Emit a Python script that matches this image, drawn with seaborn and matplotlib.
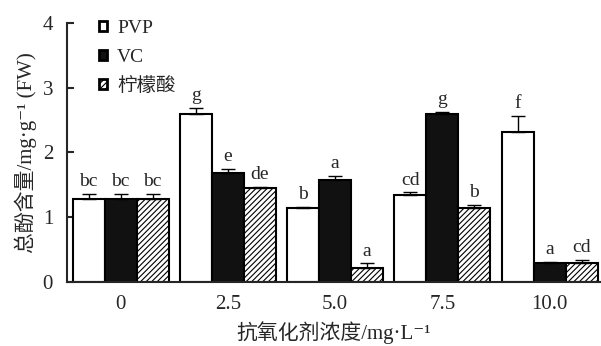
import matplotlib
matplotlib.use("Agg")
import matplotlib.pyplot as plt
import seaborn as sns
import pandas as pd
import numpy as np
from matplotlib.patches import Patch

concentrations = ["0", "2.5", "5.0", "7.5", "10.0"]
series = ["PVP", "VC", "柠檬酸"]
pvp = [1.28, 2.60, 1.14, 1.34, 2.32]
vc = [1.28, 1.68, 1.57, 2.60, 0.29]
citric = [1.28, 1.45, 0.21, 1.14, 0.28]
pvp_err = [0.07, 0.09, 0.02, 0.04, 0.25]
vc_err = [0.07, 0.06, 0.06, 0.02, 0.01]
citric_err = [0.07, 0.01, 0.07, 0.05, 0.06]
pvp_lbl = ["bc", "g", "b", "cd", "f"]
vc_lbl = ["bc", "e", "a", "g", "a"]
citric_lbl = ["bc", "de", "a", "b", "cd"]

sns.set_style("ticks")
plt.rcParams['font.family'] = ['Liberation Serif', 'Noto Sans CJK SC', 'DejaVu Sans']
plt.rcParams['hatch.color'] = '#555555'
plt.rcParams['hatch.linewidth'] = 0.8

rows = []
for s, vals in zip(series, [pvp, vc, citric]):
    for c, v in zip(concentrations, vals):
        rows.append({"conc": c, "series": s, "value": v})
df = pd.DataFrame(rows)

fig = plt.figure(figsize=(6.01, 3.46), dpi=100)
ax = fig.add_axes([0.1115, 0.1864, 0.887, 0.7463])

palette = {"PVP": "white", "VC": "#111111", "柠檬酸": "white"}
sns.barplot(data=df, x="conc", y="value", hue="series", order=concentrations,
            hue_order=series, palette=palette, errorbar=None, width=0.895,
            edgecolor="black", linewidth=1.5, ax=ax, legend=False)

errs = [pvp_err, vc_err, citric_err]
lbls = [pvp_lbl, vc_lbl, citric_lbl]
bar_containers = list(ax.containers)[:3]
for i, cont in enumerate(bar_containers):
    for j, bar in enumerate(cont.patches):
        if i == 2:
            bar.set_hatch("//////")
        xc = bar.get_x() + bar.get_width() / 2
        h = bar.get_height()
        e = errs[i][j]
        ax.errorbar(xc, h, yerr=[[0], [e]], fmt='none', ecolor='black',
                    elinewidth=1.0, capsize=5, capthick=1.0, zorder=1)
        ax.text(xc, h + e + 0.06, lbls[i][j], ha='center', va='bottom',
                fontsize=14)

ax.set_ylim(0, 4)
ax.set_xlim(-0.5, 4.47)
ax.set_yticks([0, 1, 2, 3, 4])
ax.tick_params(axis='y', direction='in', length=5, width=1.5, labelsize=15, pad=10)
ax.tick_params(axis='x', length=0, labelsize=15, pad=10)
for side in ['left', 'bottom']:
    ax.spines[side].set_linewidth(1.5)
sns.despine(ax=ax)

ax.set_xlabel("抗氧化剂浓度/mg·L⁻¹", fontsize=15, labelpad=5)
ax.set_ylabel("总酚含量/mg·g⁻¹ (FW)", fontsize=15, labelpad=4)

handles = [Patch(facecolor="white", edgecolor="black", linewidth=2),
           Patch(facecolor="#111111", edgecolor="black", linewidth=2),
           Patch(facecolor="white", edgecolor="black", linewidth=2, hatch="//////")]
ax.legend(handles, series, loc='upper left', bbox_to_anchor=(0.028, 1.08),
          frameon=False, fontsize=14, handlelength=0.4, handleheight=0.4,
          handletextpad=0.5, labelspacing=0.6)

fig.savefig("out.png", dpi=100)
